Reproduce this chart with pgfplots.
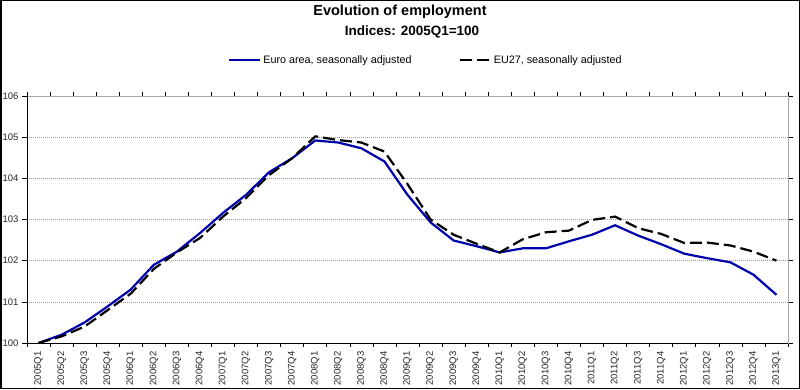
\documentclass[border=0pt]{standalone}
\usepackage{pgfplots}
\pgfplotsset{compat=1.18}
\usepackage{fontspec}
\setmainfont{Liberation Sans}
\definecolor{eablue}{RGB}{0,0,170}
\begin{document}
\begin{tikzpicture}[x=1pt,y=1pt]
\useasboundingbox (0,0) rectangle (800,389);
\fill[white] (0,0) rectangle (800,389);
\begin{axis}[
  at={(27pt,46pt)}, anchor=south west, scale only axis,
  width=761pt, height=247pt,
  xmin=-0.5, xmax=32.5, ymin=100, ymax=106,
  xtick={0,...,32},
  xticklabels={2005Q1,2005Q2,2005Q3,2005Q4,2006Q1,2006Q2,2006Q3,2006Q4,2007Q1,2007Q2,2007Q3,2007Q4,2008Q1,2008Q2,2008Q3,2008Q4,2009Q1,2009Q2,2009Q3,2009Q4,2010Q1,2010Q2,2010Q3,2010Q4,2011Q1,2011Q2,2011Q3,2011Q4,2012Q1,2012Q2,2012Q3,2012Q4,2013Q1},
  major x tick style={draw=none},
  minor xtick={-0.5,0.5,...,32.5},
  ytick={100,...,106},
  tick align=outside,
  major tick length=5pt, minor tick length=4pt,
  tick style={black, line width=0.6pt},
  ymajorgrids,
  grid style={gray!80, dash pattern=on 1pt off 1pt, line width=0.6pt},
  axis line style={gray!70, line width=0.8pt},
  xticklabel style={rotate=90, anchor=east, font=\fontsize{9.5}{10}\selectfont, text=black!85},
  yticklabel style={font=\fontsize{9.5}{10}\selectfont, text=black!85},
  /pgf/number format/assume math mode=true,
  legend columns=2,
  legend image code/.code={\draw[#1] (0pt,0pt) -- (31pt,0pt);},
  legend style={at={(0.264,1.146)}, anchor=west, draw=none, fill=none,
    inner sep=0pt, font=\fontsize{10.8}{12}\selectfont,
    /tikz/every even column/.append style={column sep=45pt}},
]
\addplot[eablue, line width=2.2pt] coordinates {
(0,100.0) (1,100.2) (2,100.5) (3,100.89) (4,101.3) (5,101.9) (6,102.22) (7,102.67)
(8,103.16) (9,103.6) (10,104.15) (11,104.49) (12,104.92) (13,104.87) (14,104.73) (15,104.41)
(16,103.6) (17,102.93) (18,102.49) (19,102.35) (20,102.2) (21,102.3) (22,102.3) (23,102.47)
(24,102.63) (25,102.86) (26,102.61) (27,102.4) (28,102.17) (29,102.06) (30,101.96) (31,101.66)
(32,101.17)};
\addlegendentry{Euro area, seasonally adjusted}
\addplot[black, line width=2.2pt, dash pattern=on 12pt off 5pt] coordinates {
(0,100.0) (1,100.16) (2,100.4) (3,100.8) (4,101.2) (5,101.8) (6,102.2) (7,102.55)
(8,103.07) (9,103.52) (10,104.08) (11,104.49) (12,105.02) (13,104.93) (14,104.87) (15,104.65)
(16,103.86) (17,103.0) (18,102.63) (19,102.41) (20,102.2) (21,102.52) (22,102.69) (23,102.73)
(24,102.99) (25,103.07) (26,102.79) (27,102.65) (28,102.43) (29,102.44) (30,102.37) (31,102.22)
(32,102.0)};
\addlegendentry{EU27, seasonally adjusted}
\draw[black, line width=0.8pt] (rel axis cs:0,1) -- (rel axis cs:0,0) -- (rel axis cs:1,0);
\end{axis}
\node at (400,377) {\fontsize{14.5}{16}\selectfont\bfseries Evolution of employment};
\node at (412,357) {\fontsize{13.5}{16}\selectfont\bfseries Indices: 2005Q1=100};
\draw[line width=1.5pt] (0.75,0.75) rectangle (799.25,388.25);
\end{tikzpicture}
\end{document}
